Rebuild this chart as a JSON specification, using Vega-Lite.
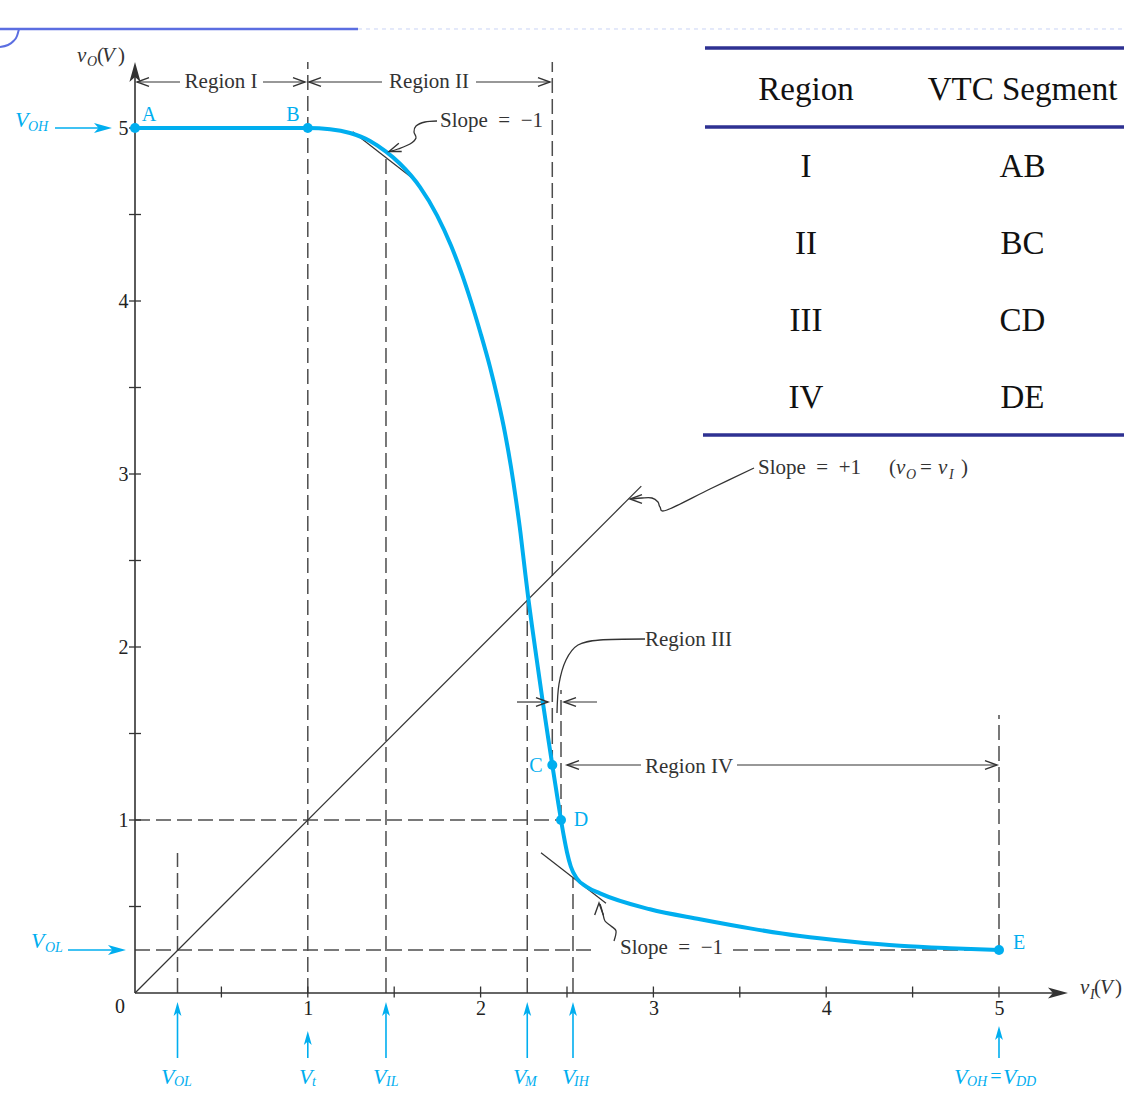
{
  "$schema": "https://vega.github.io/schema/vega-lite/v6.json",
  "width": 989,
  "height": 993,
  "autosize": "none",
  "padding": {"left": 135, "top": 0, "right": 0, "bottom": 103},
  "background": "white",
  "config": {"view": {"stroke": null}, "font": "Liberation Serif"},
  "datasets": {
    "curve": [
      {"x": 0, "y": 5}, {"x": 1.0, "y": 5}, {"x": 1.1285, "y": 4.9931}, {"x": 1.2442, "y": 4.9711},
      {"x": 1.36, "y": 4.9249}, {"x": 1.4525, "y": 4.863}, {"x": 1.5336, "y": 4.7931}, {"x": 1.6493, "y": 4.6584},
      {"x": 1.7477, "y": 4.4954}, {"x": 1.8287, "y": 4.3208}, {"x": 1.8924, "y": 4.1538}, {"x": 1.9416, "y": 4.0058},
      {"x": 1.9994, "y": 3.815}, {"x": 2.0544, "y": 3.6185}, {"x": 2.1007, "y": 3.4277}, {"x": 2.1412, "y": 3.237},
      {"x": 2.1759, "y": 3.0405}, {"x": 2.2049, "y": 2.8497}, {"x": 2.2309, "y": 2.659}, {"x": 2.2541, "y": 2.4624},
      {"x": 2.2772, "y": 2.2717}, {"x": 2.3032, "y": 2.0809}, {"x": 2.331, "y": 1.8844}, {"x": 2.3582, "y": 1.6936},
      {"x": 2.3866, "y": 1.5029}, {"x": 2.4149, "y": 1.3179}, {"x": 2.4439, "y": 1.1329}, {"x": 2.4653, "y": 1.0},
      {"x": 2.4838, "y": 0.8948}, {"x": 2.5, "y": 0.8139}, {"x": 2.522, "y": 0.7312}, {"x": 2.5561, "y": 0.663},
      {"x": 2.614, "y": 0.6139}, {"x": 2.691, "y": 0.5757}, {"x": 2.9803, "y": 0.4838}, {"x": 3.2697, "y": 0.426},
      {"x": 3.559, "y": 0.3734}, {"x": 3.8484, "y": 0.3295}, {"x": 4.1377, "y": 0.2977}, {"x": 4.4271, "y": 0.2728},
      {"x": 4.7164, "y": 0.2584}, {"x": 5.0, "y": 0.2486}
    ],
    "dots": [
      {"x": 0, "y": 5}, {"x": 1.0, "y": 5}, {"x": 2.4149, "y": 1.3179}, {"x": 2.4653, "y": 1.0}, {"x": 5.0, "y": 0.2486}
    ],
    "dashed": [
      {"x": 0.246, "y": 0, "x2": 0.246, "y2": 0.809},
      {"x": 1.0, "y": 0, "x2": 1.0, "y2": 5.382},
      {"x": 1.4525, "y": 0, "x2": 1.4525, "y2": 4.863},
      {"x": 2.27, "y": 0, "x2": 2.27, "y2": 2.33},
      {"x": 2.4149, "y": 1.3179, "x2": 2.4149, "y2": 5.382},
      {"x": 2.4653, "y": 1.0, "x2": 2.4653, "y2": 1.751},
      {"x": 2.5347, "y": 0, "x2": 2.5347, "y2": 0.665},
      {"x": 5.0, "y": 0.2486, "x2": 5.0, "y2": 1.607},
      {"x": 0, "y": 1.0, "x2": 2.4653, "y2": 1.0},
      {"x": 0, "y": 0.2486, "x2": 2.6563, "y2": 0.2486},
      {"x": 3.4606, "y": 0.2486, "x2": 5.0, "y2": 0.2486}
    ],
    "thin": [
      {"x": 0, "y": 0, "x2": 2.93, "y2": 2.93},
      {"x": 1.2599, "y": 4.9786, "x2": 1.6395, "y2": 4.6838},
      {"x": 2.3495, "y": 0.811, "x2": 2.7257, "y2": 0.5185},
      {"x": 0.0116, "y": 5.266, "x2": 0.2604, "y2": 5.266},
      {"x": 0.7407, "y": 5.266, "x2": 0.9838, "y2": 5.266},
      {"x": 1.0069, "y": 5.266, "x2": 1.4294, "y2": 5.266},
      {"x": 1.9734, "y": 5.266, "x2": 2.4016, "y2": 5.266},
      {"x": 2.2106, "y": 1.682, "x2": 2.39, "y2": 1.682},
      {"x": 2.4826, "y": 1.682, "x2": 2.6736, "y2": 1.682},
      {"x": 2.5, "y": 1.318, "x2": 2.9282, "y2": 1.318},
      {"x": 3.4838, "y": 1.318, "x2": 4.9884, "y2": 1.318}
    ],
    "axisLines": [
      {"x": 0, "y": 0, "x2": 5.36, "y2": 0},
      {"x": 0, "y": 0, "x2": 0, "y2": 5.34}
    ],
    "blueRules": [
      {"x": -0.463, "y": 5.0, "x2": -0.18, "y2": 5.0},
      {"x": -0.3877, "y": 0.2486, "x2": -0.1, "y2": 0.2486},
      {"x": 0.246, "y": -0.3757, "x2": 0.246, "y2": -0.09},
      {"x": 1.0, "y": -0.3757, "x2": 1.0, "y2": -0.25},
      {"x": 1.4525, "y": -0.3757, "x2": 1.4525, "y2": -0.09},
      {"x": 2.27, "y": -0.3757, "x2": 2.27, "y2": -0.09},
      {"x": 2.5347, "y": -0.3757, "x2": 2.5347, "y2": -0.09},
      {"x": 5.0, "y": -0.3757, "x2": 5.0, "y2": -0.22}
    ],
    "xticks": [
      {"x": 0.5, "y": 0}, {"x": 1.0, "y": 0}, {"x": 1.5, "y": 0}, {"x": 2.0, "y": 0}, {"x": 2.5, "y": 0},
      {"x": 3.0, "y": 0}, {"x": 3.5, "y": 0}, {"x": 4.0, "y": 0}, {"x": 4.5, "y": 0}, {"x": 5.0, "y": 0}
    ],
    "yticks": [
      {"x": 0, "y": 0.5}, {"x": 0, "y": 1.0}, {"x": 0, "y": 1.5}, {"x": 0, "y": 2.0}, {"x": 0, "y": 2.5},
      {"x": 0, "y": 3.0}, {"x": 0, "y": 3.5}, {"x": 0, "y": 4.0}, {"x": 0, "y": 4.5}, {"x": 0, "y": 5.0}
    ],
    "leaders": [
      {"id": "r3", "i": 0, "x": 2.9514, "y": 2.0462},
      {"id": "r3", "i": 1, "x": 2.691, "y": 2.0405},
      {"id": "r3", "i": 2, "x": 2.5637, "y": 2.0116},
      {"id": "r3", "i": 3, "x": 2.4942, "y": 1.9249},
      {"id": "r3", "i": 4, "x": 2.4537, "y": 1.7861},
      {"id": "r3", "i": 5, "x": 2.4421, "y": 1.6185},
      {"id": "s1", "i": 0, "x": 1.7477, "y": 5.0405},
      {"id": "s1", "i": 1, "x": 1.6782, "y": 5.0347},
      {"id": "s1", "i": 2, "x": 1.6262, "y": 5.0116},
      {"id": "s1", "i": 3, "x": 1.6146, "y": 4.9769},
      {"id": "s1", "i": 4, "x": 1.6262, "y": 4.9422},
      {"id": "s1", "i": 5, "x": 1.5914, "y": 4.9075},
      {"id": "s1", "i": 6, "x": 1.522, "y": 4.8786},
      {"id": "s1", "i": 7, "x": 1.4757, "y": 4.8642},
      {"id": "s2", "i": 0, "x": 2.772, "y": 0.3006},
      {"id": "s2", "i": 1, "x": 2.7836, "y": 0.3584},
      {"id": "s2", "i": 2, "x": 2.7546, "y": 0.3873},
      {"id": "s2", "i": 3, "x": 2.7199, "y": 0.4162},
      {"id": "s2", "i": 4, "x": 2.7083, "y": 0.4566},
      {"id": "s2", "i": 5, "x": 2.6968, "y": 0.4971},
      {"id": "s2", "i": 6, "x": 2.691, "y": 0.5145},
      {"id": "s3", "i": 0, "x": 3.5822, "y": 3.0347},
      {"id": "s3", "i": 1, "x": 3.3275, "y": 2.9133},
      {"id": "s3", "i": 2, "x": 3.0787, "y": 2.7919},
      {"id": "s3", "i": 3, "x": 3.0382, "y": 2.8092},
      {"id": "s3", "i": 4, "x": 3.0266, "y": 2.8382},
      {"id": "s3", "i": 5, "x": 2.9919, "y": 2.8613},
      {"id": "s3", "i": 6, "x": 2.934, "y": 2.8613},
      {"id": "s3", "i": 7, "x": 2.8762, "y": 2.8555}
    ],
    "openHeads": [
      {"x": 0.0116, "y": 5.266, "d": "oL"},
      {"x": 0.9838, "y": 5.266, "d": "oR"},
      {"x": 1.0069, "y": 5.266, "d": "oL"},
      {"x": 2.4016, "y": 5.266, "d": "oR"},
      {"x": 2.39, "y": 1.682, "d": "oR"},
      {"x": 2.4826, "y": 1.682, "d": "oL"},
      {"x": 2.5, "y": 1.318, "d": "oL"},
      {"x": 4.9884, "y": 1.318, "d": "oR"},
      {"x": 1.4699, "y": 4.8642, "d": "oDL"},
      {"x": 2.6852, "y": 0.5202, "d": "oU"},
      {"x": 2.8646, "y": 2.8555, "d": "oL"}
    ],
    "axisHeads": [
      {"x": 5.399, "y": 0, "d": "fR"},
      {"x": 0, "y": 5.382, "d": "fU"}
    ],
    "blueHeadsH": [
      {"x": -0.1331, "y": 5.0, "d": "fR"},
      {"x": -0.0521, "y": 0.2486, "d": "fR"}
    ],
    "blueHeadsUp": [
      {"x": 0.246, "y": -0.052, "d": "fU"},
      {"x": 1.0, "y": -0.2197, "d": "fU"},
      {"x": 1.4525, "y": -0.052, "d": "fU"},
      {"x": 2.27, "y": -0.052, "d": "fU"},
      {"x": 2.5347, "y": -0.052, "d": "fU"},
      {"x": 5.0, "y": -0.1908, "d": "fU"}
    ],
    "annoCenter": [
      {"x": 0.4977, "y": 5.266, "t": "Region I"},
      {"x": 1.7014, "y": 5.266, "t": "Region II"}
    ],
    "annoLeft": [
      {"x": 2.9514, "y": 2.0405, "t": "Region III"},
      {"x": 2.9514, "y": 1.306, "t": "Region IV"},
      {"x": 1.765, "y": 5.0405, "t": "Slope\u2002=\u2002\u22121"},
      {"x": 2.8067, "y": 0.2601, "t": "Slope\u2002=\u2002\u22121"},
      {"x": 3.6053, "y": 3.0347, "t": "Slope\u2002=\u2002+1"},
      {"x": 4.3634, "y": 3.0347, "t": "("},
      {"x": 4.5428, "y": 3.0347, "t": "="},
      {"x": 4.7801, "y": 3.0347, "t": ")"},
      {"x": -0.2199, "y": 5.4162, "t": "("},
      {"x": -0.0984, "y": 5.4162, "t": ")"},
      {"x": 5.5498, "y": 0.0289, "t": "("},
      {"x": 5.6713, "y": 0.0289, "t": ")"}
    ],
    "italicMain": [
      {"x": 4.4039, "y": 3.0347, "t": "v"},
      {"x": 4.647, "y": 3.0347, "t": "v"},
      {"x": -0.3356, "y": 5.4162, "t": "v"},
      {"x": -0.191, "y": 5.4162, "t": "V"},
      {"x": 5.4688, "y": 0.0289, "t": "v"},
      {"x": 5.5845, "y": 0.0289, "t": "V"}
    ],
    "italicSub": [
      {"x": 4.4618, "y": 2.9942, "t": "O"},
      {"x": 4.7106, "y": 2.9942, "t": "I"},
      {"x": -0.2778, "y": 5.3815, "t": "O"},
      {"x": 5.5266, "y": -0.0116, "t": "I"}
    ],
    "zeroLabel": [
      {"x": -0.0868, "y": -0.0809, "t": "0"}
    ],
    "blueV": [
      {"x": -0.6944, "y": 5.0462, "t": "V"},
      {"x": -0.6019, "y": 0.3006, "t": "V"},
      {"x": 0.1505, "y": -0.4855, "t": "V"},
      {"x": 0.9491, "y": -0.4855, "t": "V"},
      {"x": 1.3773, "y": -0.4855, "t": "V"},
      {"x": 2.1875, "y": -0.4855, "t": "V"},
      {"x": 2.4711, "y": -0.4855, "t": "V"},
      {"x": 4.7396, "y": -0.4855, "t": "V"},
      {"x": 5.0231, "y": -0.4855, "t": "V"}
    ],
    "blueSub": [
      {"x": -0.6192, "y": 5.0058, "t": "OH"},
      {"x": -0.5208, "y": 0.2601, "t": "OL"},
      {"x": 0.2257, "y": -0.5145, "t": "OL"},
      {"x": 1.0243, "y": -0.5145, "t": "t"},
      {"x": 1.4525, "y": -0.5145, "t": "IL"},
      {"x": 2.2569, "y": -0.5145, "t": "M"},
      {"x": 2.5405, "y": -0.5145, "t": "IH"},
      {"x": 4.8148, "y": -0.5145, "t": "OH"},
      {"x": 5.0984, "y": -0.5145, "t": "DD"}
    ],
    "blueUpright": [
      {"x": 0.081, "y": 5.0751, "t": "A"},
      {"x": 0.9144, "y": 5.0751, "t": "B"},
      {"x": 2.3206, "y": 1.3121, "t": "C"},
      {"x": 2.581, "y": 1.0, "t": "D"},
      {"x": 5.1157, "y": 0.289, "t": "E"},
      {"x": 4.9826, "y": -0.4855, "t": "="}
    ],
    "tableLines": [
      {"x": 3.2986, "y": 5.4624, "x2": 5.7234, "y2": 5.4624},
      {"x": 3.2986, "y": 5.0058, "x2": 5.7234, "y2": 5.0058},
      {"x": 3.287, "y": 3.2254, "x2": 5.7234, "y2": 3.2254}
    ],
    "tableText": [
      {"x": 3.8831, "y": 5.2197, "t": "Region"},
      {"x": 5.136, "y": 5.2197, "t": "VTC Segment"},
      {"x": 3.8831, "y": 4.7746, "t": "I"},
      {"x": 5.136, "y": 4.7746, "t": "AB"},
      {"x": 3.8831, "y": 4.3295, "t": "II"},
      {"x": 5.136, "y": 4.3295, "t": "BC"},
      {"x": 3.8831, "y": 3.8844, "t": "III"},
      {"x": 5.136, "y": 3.8844, "t": "CD"},
      {"x": 3.8831, "y": 3.4393, "t": "IV"},
      {"x": 5.136, "y": 3.4393, "t": "DE"}
    ],
    "decoLine": [
      {"x": -0.7813, "y": 5.5723, "x2": 1.2905, "y2": 5.5723}
    ],
    "decoFaint": [
      {"x": 1.2905, "y": 5.5723, "x2": 5.7234, "y2": 5.5723}
    ],
    "decoArc": [
      {"i": 0, "x": -0.7813, "y": 5.4682},
      {"i": 1, "x": -0.735, "y": 5.4798},
      {"i": 2, "x": -0.7031, "y": 5.5029},
      {"i": 3, "x": -0.6829, "y": 5.5318},
      {"i": 4, "x": -0.6713, "y": 5.5723}
    ]
  },
  "encoding": {
    "x": {
      "field": "x", "type": "quantitative",
      "scale": {"domain": [0, 5.7234], "nice": false, "zero": false},
      "axis": {"values": [1, 2, 3, 4, 5], "format": "d", "ticks": false, "tickSize": 0, "domain": false, "grid": false,
               "labelPadding": 5, "labelFontSize": 20, "labelFont": "Liberation Serif", "labelColor": "#222222", "title": null}
    },
    "y": {
      "field": "y", "type": "quantitative",
      "scale": {"domain": [0, 5.7399], "nice": false, "zero": false},
      "axis": {"values": [1, 2, 3, 4, 5], "format": "d", "ticks": false, "tickSize": 0, "domain": false, "grid": false,
               "labelPadding": 7, "labelFontSize": 20, "labelFont": "Liberation Serif", "labelColor": "#222222", "title": null}
    }
  },
  "layer": [
    {"data": {"name": "decoLine"}, "mark": {"type": "rule", "color": "#5b6ee1", "strokeWidth": 2.5},
     "encoding": {"x2": {"field": "x2"}, "y2": {"field": "y2"}}},
    {"data": {"name": "decoFaint"}, "mark": {"type": "rule", "color": "#c9d3f5", "strokeWidth": 1, "strokeDash": [4, 4]},
     "encoding": {"x2": {"field": "x2"}, "y2": {"field": "y2"}}},
    {"data": {"name": "decoArc"}, "mark": {"type": "line", "color": "#5b6ee1", "strokeWidth": 2, "interpolate": "monotone"},
     "encoding": {"order": {"field": "i"}}},
    {"data": {"name": "tableLines"}, "mark": {"type": "rule", "color": "#2e3192", "strokeWidth": 3.5},
     "encoding": {"x2": {"field": "x2"}, "y2": {"field": "y2"}}},
    {"data": {"name": "tableText"}, "mark": {"type": "text", "fontSize": 33, "font": "Liberation Serif", "color": "#111111", "align": "center", "baseline": "middle"},
     "encoding": {"text": {"field": "t", "type": "nominal"}}},
    {"data": {"name": "dashed"}, "mark": {"type": "rule", "color": "#4d4d4d", "strokeWidth": 1.5, "strokeDash": [15, 6]},
     "encoding": {"x2": {"field": "x2"}, "y2": {"field": "y2"}}},
    {"data": {"name": "thin"}, "mark": {"type": "rule", "color": "#333333", "strokeWidth": 1.2},
     "encoding": {"x2": {"field": "x2"}, "y2": {"field": "y2"}}},
    {"data": {"name": "axisLines"}, "mark": {"type": "rule", "color": "#333333", "strokeWidth": 1.6},
     "encoding": {"x2": {"field": "x2"}, "y2": {"field": "y2"}}},
    {"data": {"name": "xticks"}, "mark": {"type": "tick", "orient": "vertical", "size": 11, "thickness": 1.3, "color": "#333333", "yOffset": -1, "opacity": 1}},
    {"data": {"name": "yticks"}, "mark": {"type": "tick", "orient": "horizontal", "size": 12, "thickness": 1.3, "color": "#333333", "opacity": 1}},
    {"data": {"name": "leaders"}, "mark": {"type": "line", "color": "#333333", "strokeWidth": 1.3, "interpolate": "cardinal"},
     "encoding": {"detail": {"field": "id", "type": "nominal"}, "order": {"field": "i"}}},
    {"data": {"name": "blueRules"}, "mark": {"type": "rule", "color": "#00AEEF", "strokeWidth": 1.6},
     "encoding": {"x2": {"field": "x2"}, "y2": {"field": "y2"}}},
    {"data": {"name": "curve"}, "mark": {"type": "line", "color": "#00AEEF", "strokeWidth": 4, "interpolate": "monotone"}},
    {"data": {"name": "dots"}, "mark": {"type": "circle", "color": "#00AEEF", "size": 100, "opacity": 1}},
    {"data": {"name": "openHeads"}, "mark": {"type": "point", "filled": false, "color": "#333333", "strokeWidth": 1.4, "size": 576, "opacity": 1},
     "encoding": {"shape": {"field": "d", "type": "nominal", "legend": null,
       "scale": {"domain": ["oR", "oL", "oU", "oDL", "fR", "fU"],
                 "range": ["M-1,-0.36L0,0L-1,0.36", "M1,-0.36L0,0L1,0.36", "M-0.36,1L0,0L0.36,1", "M1.06,0L0,0L0.82,-0.68",
                           "M0,0L-1,-0.28L-0.75,0L-1,0.28Z", "M0,0L-0.28,1L0,0.75L0.28,1Z"]}}}},
    {"data": {"name": "axisHeads"}, "mark": {"type": "point", "filled": true, "color": "#333333", "strokeWidth": 0, "size": 1600, "opacity": 1},
     "encoding": {"shape": {"field": "d", "type": "nominal", "legend": null,
       "scale": {"domain": ["oR", "oL", "oU", "oDL", "fR", "fU"],
                 "range": ["M-1,-0.36L0,0L-1,0.36", "M1,-0.36L0,0L1,0.36", "M-0.36,1L0,0L0.36,1", "M1.06,0L0,0L0.82,-0.68",
                           "M0,0L-1,-0.28L-0.75,0L-1,0.28Z", "M0,0L-0.28,1L0,0.75L0.28,1Z"]}}}},
    {"data": {"name": "blueHeadsH"}, "mark": {"type": "point", "filled": true, "color": "#00AEEF", "strokeWidth": 0, "size": 1296, "opacity": 1},
     "encoding": {"shape": {"field": "d", "type": "nominal", "legend": null,
       "scale": {"domain": ["oR", "oL", "oU", "oDL", "fR", "fU"],
                 "range": ["M-1,-0.36L0,0L-1,0.36", "M1,-0.36L0,0L1,0.36", "M-0.36,1L0,0L0.36,1", "M1.06,0L0,0L0.82,-0.68",
                           "M0,0L-1,-0.28L-0.75,0L-1,0.28Z", "M0,0L-0.28,1L0,0.75L0.28,1Z"]}}}},
    {"data": {"name": "blueHeadsUp"}, "mark": {"type": "point", "filled": true, "color": "#00AEEF", "strokeWidth": 0, "size": 784, "opacity": 1},
     "encoding": {"shape": {"field": "d", "type": "nominal", "legend": null,
       "scale": {"domain": ["oR", "oL", "oU", "oDL", "fR", "fU"],
                 "range": ["M-1,-0.36L0,0L-1,0.36", "M1,-0.36L0,0L1,0.36", "M-0.36,1L0,0L0.36,1", "M1.06,0L0,0L0.82,-0.68",
                           "M0,0L-1,-0.28L-0.75,0L-1,0.28Z", "M0,0L-0.28,1L0,0.75L0.28,1Z"]}}}},
    {"data": {"name": "annoCenter"}, "mark": {"type": "text", "fontSize": 21, "font": "Liberation Serif", "color": "#333333", "align": "center", "baseline": "middle"},
     "encoding": {"text": {"field": "t", "type": "nominal"}}},
    {"data": {"name": "annoLeft"}, "mark": {"type": "text", "fontSize": 21, "font": "Liberation Serif", "color": "#333333", "align": "left", "baseline": "middle"},
     "encoding": {"text": {"field": "t", "type": "nominal"}}},
    {"data": {"name": "italicMain"}, "mark": {"type": "text", "fontSize": 21, "font": "Liberation Serif", "fontStyle": "italic", "color": "#333333", "align": "left", "baseline": "middle"},
     "encoding": {"text": {"field": "t", "type": "nominal"}}},
    {"data": {"name": "italicSub"}, "mark": {"type": "text", "fontSize": 14, "font": "Liberation Serif", "fontStyle": "italic", "color": "#333333", "align": "left", "baseline": "middle"},
     "encoding": {"text": {"field": "t", "type": "nominal"}}},
    {"data": {"name": "zeroLabel"}, "mark": {"type": "text", "fontSize": 20, "font": "Liberation Serif", "color": "#222222", "align": "center", "baseline": "middle"},
     "encoding": {"text": {"field": "t", "type": "nominal"}}},
    {"data": {"name": "blueV"}, "mark": {"type": "text", "fontSize": 22, "font": "Liberation Serif", "fontStyle": "italic", "color": "#00AEEF", "align": "left", "baseline": "middle"},
     "encoding": {"text": {"field": "t", "type": "nominal"}}},
    {"data": {"name": "blueSub"}, "mark": {"type": "text", "fontSize": 14, "font": "Liberation Serif", "fontStyle": "italic", "color": "#00AEEF", "align": "left", "baseline": "middle"},
     "encoding": {"text": {"field": "t", "type": "nominal"}}},
    {"data": {"name": "blueUpright"}, "mark": {"type": "text", "fontSize": 20, "font": "Liberation Serif", "color": "#00AEEF", "align": "center", "baseline": "middle"},
     "encoding": {"text": {"field": "t", "type": "nominal"}}}
  ]
}
